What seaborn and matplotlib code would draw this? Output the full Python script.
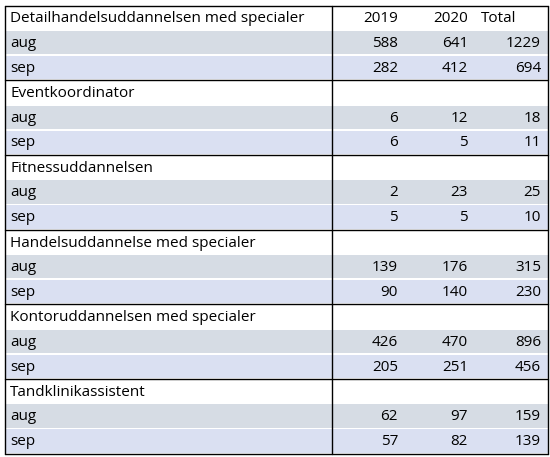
import matplotlib
matplotlib.use("Agg")
import matplotlib.pyplot as plt
import seaborn as sns

sns.set_theme(style="white")
plt.rcParams['font.family'] = ['Open Sans', 'DejaVu Sans']

groups = ["Detailhandelsuddannelsen med specialer", "Eventkoordinator", "Fitnessuddannelsen",
          "Handelsuddannelse med specialer", "Kontoruddannelsen med specialer", "Tandklinikassistent"]
months = ["aug", "sep"]
v2019 = [[588, 282], [6, 6], [2, 5], [139, 90], [426, 205], [62, 57]]
v2020 = [[641, 412], [12, 5], [23, 5], [176, 140], [470, 251], [97, 82]]
vtot = [[1229, 694], [18, 11], [25, 10], [315, 230], [896, 456], [159, 139]]
headers = ["2019", "2020", "Total"]

W, H = 550, 457
fig = plt.figure(figsize=(W/100, H/100), dpi=100)
ax = fig.add_axes([0, 0, 1, 1])
ax.set_xlim(0, W); ax.set_ylim(H, 0); ax.axis("off")

x0, x1, xv = 4.5, 548, 332
top, rh = 5.5, 24.9
cols = [398, 468, 541]
hcols = [398, 468, 516]
fs = 11
colors = {"aug": "#D6DCE4", "sep": "#DAE0F2"}

for g, name in enumerate(groups):
    gy = top + g * 3 * rh
    ax.text(10, gy + rh/2 + 1, name, fontsize=fs, va="center", ha="left", color="black")
    if g == 0:
        for c, h in zip(hcols, headers):
            ax.text(c, gy + rh/2 + 1, h, fontsize=fs, va="center", ha="right", color="black")
    for m, mon in enumerate(months):
        ry = gy + (m + 1) * rh
        ax.add_patch(plt.Rectangle((x0, ry + 0.5), x1 - x0, rh - 1.5, color=colors[mon], lw=0, zorder=0))
        ax.text(10, ry + rh/2 + 0.5, mon, fontsize=fs, va="center", ha="left", color="black")
        for c, arr in zip(cols, [v2019, v2020, vtot]):
            ax.text(c, ry + rh/2 + 0.5, str(arr[g][m]), fontsize=fs, va="center", ha="right", color="black")
    ax.plot([x0, x1], [gy, gy], color="black", lw=1)
ybot = top + 18 * rh
ax.plot([x0, x1], [ybot, ybot], color="black", lw=1)
ax.plot([x0, x0], [top, ybot], color="black", lw=1)
ax.plot([x1, x1], [top, ybot], color="black", lw=1)
ax.plot([xv, xv], [top, ybot], color="black", lw=1)

fig.savefig("out.png", dpi=100, facecolor="white")
